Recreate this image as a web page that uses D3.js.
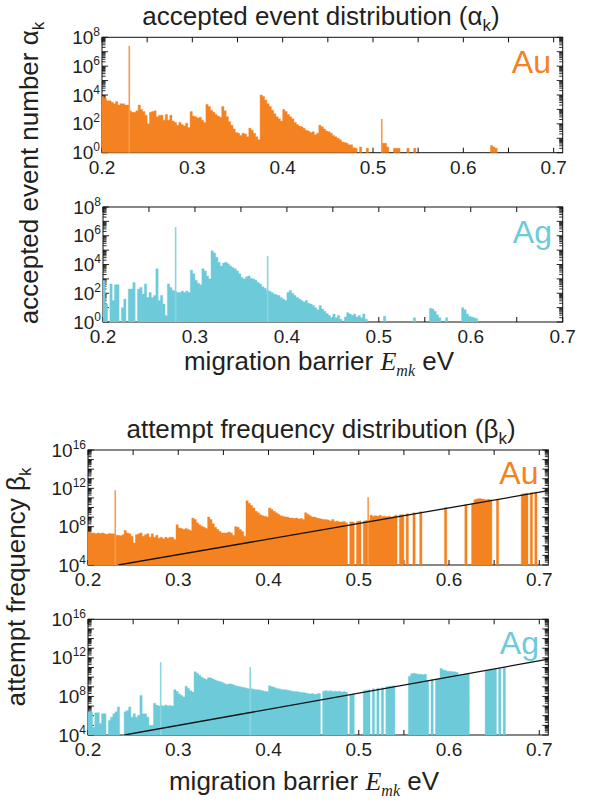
<!DOCTYPE html>
<html>
<head>
<meta charset="utf-8">
<script src="https://cdn.jsdelivr.net/npm/d3@7"></script>
<style>
  body { margin: 0; background: #fff; }
  text { font-family: "Liberation Sans", Arial, sans-serif; fill: #231f20; }
</style>
</head>
<body>
<div id="container-svg"></div>
<script>
// Histogram bins: start 0.2 eV, width 0.0025 eV. Values are log10 of the bin height (0 = empty bin)
const BIN_START = 0.2
const BIN_WIDTH = 0.0025

const auAlpha = [
  3.9, 3.75, 3.6, 3.6, 3.5, 3.4, 3.55, 3.3, 3.4, 3.4,
  3.3, 3.3, 2.9, 2.8, 2.8, 2.9, 3.3, 3.0, 2.85, 2.6,
  2.0, 2.8, 2.85, 2.9, 2.5, 2.6, 2.6, 2.25, 2.65, 2.25,
  2.6, 2.2, 2.1, 1.9, 2.1, 1.95, 1.85, 2.05, 1.75, 2.85,
  2.55, 2.5, 2.4, 2.45, 2.25, 2.1, 3.35, 3.2, 2.95, 2.8,
  2.65, 2.55, 2.45, 3.2, 2.9, 2.5, 2.15, 1.9, 1.65, 1.4,
  1.35, 1.2, 1.35, 1.3, 1.1, 1.7, 1.55, 1.35, 1.1, 0.9,
  4.0, 3.9, 3.65, 3.4, 3.2, 2.95, 2.7, 2.5, 2.35, 2.2,
  3.0, 2.85, 2.65, 2.5, 2.35, 2.1, 1.95, 1.85, 1.8, 1.7,
  1.55, 1.5, 1.4, 1.45, 1.25, 1.35, 1.9, 1.8, 1.65, 1.5,
  1.45, 1.35, 1.2, 1.1, 1.0, 0.9, 0.75, 0.7, 0.65, 0.55,
  0.55, 0.35, 0.3, 0, 0.4, 0, 0, 0.3, 0, 0,
  0, 0, 0, 0, 0.65, 0.65, 0.4, 0, 0, 0.3,
  0.3, 0.3, 0, 0, 0, 0.3, 0, 0, 0.3, 0,
  0, 0, 0, 0, 0, 0, 0, 0, 0, 0,
  0, 0, 0, 0, 0, 0, 0, 0, 0, 0,
  0, 0, 0, 0, 0, 0, 0, 0, 0, 0,
  0, 0, 0.5, 0.4, 0.3
]

const agAlpha = [
  2.9, 1.25, 0, 2.65, 1.5, 2.6, 2.6, 0, 1.0, 1.6,
  0, 2.3, 2.3, 2.75, 0, 2.3, 2.4, 1.95, 2.65, 1.7,
  2.05, 1.7, 1.85, 3.7, 1.5, 1.85, 1.25, 0.45, 2.65, 2.4,
  2.2, 2.15, 2.05, 2.05, 2.15, 2.05, 2.15, 2.05, 3.6, 3.35,
  2.9, 2.7, 2.6, 3.7, 3.55, 3.2, 3.0, 4.95, 4.8, 4.5,
  4.15, 3.9, 4.1, 4.15, 4.05, 3.9, 3.8, 3.7, 3.55, 3.35,
  3.1, 3.0, 3.15, 3.2, 3.05, 3.0, 2.9, 2.75, 2.65, 2.45,
  2.35, 2.2, 2.15, 2.05, 1.95, 1.9, 1.85, 1.7, 1.6, 1.5,
  2.05, 2.2, 2.0, 1.85, 1.7, 1.6, 1.5, 1.4, 1.5, 1.3,
  1.25, 1.15, 1.0, 0.85, 1.15, 0.9, 0.75, 0.6, 0.45, 0.3,
  0.55, 0.3, 0.45, 0.2, 0, 0.35, 0.65, 0.55, 0.45, 0.55,
  0.35, 0.45, 0.3, 0.55, 0.2, 0, 0, 0, 0, 0,
  0, 0, 0.4, 0, 0, 0, 0, 0, 0, 0,
  0, 0, 0, 0, 0, 0.3, 0, 0, 0, 0,
  0, 0, 0.95, 0.9, 0.75, 0.5, 0.3, 0, 0, 0.3,
  0, 0, 0, 0, 0, 0, 1.0, 0.85, 0.55, 0.4,
  0.35, 0.3, 0.25
]

const auBeta = [
  7.45, 7.35, 7.35, 7.25, 7.35, 7.3, 7.35, 7.25, 7.2, 7.3,
  7.25, 7.25, 7.1, 7.1, 7.05, 7.15, 7.6, 7.35, 7.25, 7.0,
  6.3, 7.15, 7.25, 7.35, 7.0, 7.15, 7.25, 6.9, 7.25, 6.9,
  7.1, 6.8, 6.9, 6.75, 6.9, 6.8, 6.9, 6.9, 6.65, 8.2,
  7.85, 7.8, 7.7, 7.8, 7.7, 7.6, 8.9, 8.75, 8.4, 8.2,
  8.05, 7.95, 7.8, 9.0, 8.75, 8.3, 7.95, 7.7, 7.5, 7.35,
  7.35, 7.35, 7.45, 7.35, 7.1, 8.0, 7.95, 7.7, 7.5, 7.0,
  10.7, 10.45, 10.2, 9.95, 9.6, 9.45, 9.25, 9.15, 9.1, 9.0,
  9.95, 9.8, 9.6, 9.45, 9.3, 9.15, 9.1, 9.0, 9.0, 8.9,
  8.9, 8.85, 8.9, 8.8, 8.85, 8.75, 9.45, 9.3, 9.15, 9.0,
  9.0, 8.9, 8.85, 8.8, 8.75, 8.75, 8.7, 8.6, 8.75, 8.55,
  8.6, 8.5, 8.5, 8.55, 8.4, 0, 8.5, 8.5, 0, 8.55,
  8.6, 0, 8.6, 8.65, 8.7, 9.2, 9.1, 9.15, 9.1, 9.2,
  9.05, 9.1, 9.05, 9.1, 9.0, 9.05, 9.2, 0, 9.25, 9.25,
  0, 9.35, 0, 0, 9.45, 0, 0, 9.55, 0, 0,
  0, 0, 0, 0, 0, 0, 0, 0, 10.0, 0,
  0, 0, 0, 0, 0, 0, 0, 10.3, 0, 0,
  10.45, 10.8, 10.9, 10.95, 10.9, 10.85, 10.8, 10.85, 10.8, 0,
  0, 10.85, 0, 0, 0, 0, 0, 0, 0, 0,
  0, 0, 11.4, 11.45, 11.5, 0, 11.55, 0, 11.6, 0
]

const agBeta = [
  6.4, 6.4, 4.8, 6.3, 6.3, 5.2, 6.2, 6.2, 0, 5.5,
  5.85, 6.2, 6.4, 6.9, 0, 0, 6.4, 6.55, 6.9, 5.85,
  6.2, 5.85, 6.05, 8.1, 6.2, 6.2, 5.85, 5.0, 5.0, 7.3,
  7.1, 7.0, 7.05, 7.0, 7.1, 7.0, 7.05, 7.0, 8.7, 8.5,
  8.25, 8.1, 7.95, 9.05, 8.85, 8.6, 8.45, 10.55, 10.4, 10.2,
  10.0, 9.85, 9.75, 9.95, 9.9, 9.8, 9.7, 9.6, 9.55, 9.45,
  9.35, 9.25, 9.3, 9.3, 9.2, 9.1, 9.05, 9.0, 8.95, 8.9,
  8.85, 8.8, 8.8, 8.75, 8.7, 8.7, 8.65, 8.6, 8.55, 8.5,
  9.1, 9.0, 8.95, 8.85, 8.8, 8.75, 8.7, 8.7, 8.65, 8.6,
  8.55, 8.5, 8.5, 8.45, 8.4, 8.4, 8.35, 8.3, 8.25, 8.3,
  8.2, 8.25, 8.3, 0, 8.55, 8.6, 8.55, 8.6, 8.5, 8.55,
  8.5, 8.55, 8.45, 8.5, 8.45, 0, 8.2, 8.25, 0, 0,
  0, 0, 8.6, 8.65, 8.7, 0, 8.8, 0, 8.85, 0,
  8.9, 0, 9.0, 9.05, 9.05, 9.1, 0, 0, 0, 0,
  0, 0, 10.1, 10.35, 10.4, 10.35, 10.3, 10.3, 10.25, 10.3,
  9.65, 0, 9.75, 0, 9.8, 9.85, 10.9, 10.75, 10.7, 10.6,
  10.6, 10.55, 10.55, 10.5, 10.2, 10.25, 10.3, 10.35, 10.35, 0,
  0, 0, 0, 0, 0, 0, 10.7, 10.75, 10.8, 10.8,
  10.85, 0, 10.9, 0, 11.0, 0
]

// Single tall events: [barrier eV, log10 value]
const auAlphaSpikes = [[0.2302, 7.4], [0.5097, 2.34]]
const agAlphaSpikes = [[0.279, 6.6], [0.3791, 4.6]]
const auBetaSpikes = [[0.2302, 11.8], [0.5104, 11.07]]
const agBetaSpikes = [[0.2805, 11.55], [0.3798, 11.05]]

// Reference lines in the attempt frequency panels: [barrier eV, log10 value]
const auBetaLine = [[0.2336, 4], [0.71, 11.75]]
const agBetaLine = [[0.2404, 4], [0.71, 11.86]]

const xTickLabels = [0.2, 0.3, 0.4, 0.5, 0.6, 0.7]
const alphaTickExps = [0, 2, 4, 6, 8]
const betaTickExps = [4, 8, 12, 16]

const ORANGE = "#f58220"
const CYAN = "#6dcbd9"

const svg = d3.select("#container-svg").append("svg")
  .attr("width", 591).attr("height", 802)
const defs = svg.append("defs")

const panels = [
  { vals: auAlpha, spikes: auAlphaSpikes, line: null, color: ORANGE, name: "Au",
    left: 102, right: 562.7, top: 37.3, bottom: 152.7, xMax: 0.71, yExp: [0, 8], ticks: alphaTickExps,
    nameX: 551, nameY: 73 },
  { vals: agAlpha, spikes: agAlphaSpikes, line: null, color: CYAN, name: "Ag",
    left: 103, right: 562.7, top: 207, bottom: 322, xMax: 0.7, yExp: [0, 8], ticks: alphaTickExps,
    nameX: 552, nameY: 242.7 },
  { vals: auBeta, spikes: auBetaSpikes, line: auBetaLine, color: ORANGE, name: "Au",
    left: 88, right: 548.3, top: 450, bottom: 565, xMax: 0.71, yExp: [4, 16], ticks: betaTickExps,
    nameX: 538.5, nameY: 483.5 },
  { vals: agBeta, spikes: agBetaSpikes, line: agBetaLine, color: CYAN, name: "Ag",
    left: 88, right: 548.3, top: 619.3, bottom: 735, xMax: 0.71, yExp: [4, 16], ticks: betaTickExps,
    nameX: 539, nameY: 653.5 }
]

panels.forEach(function(p, idx) {
  const x = d3.scaleLinear().domain([BIN_START, p.xMax]).range([p.left, p.right])
  const y = d3.scaleLog().domain([Math.pow(10, p.yExp[0]), Math.pow(10, p.yExp[1])]).range([p.bottom, p.top])
  const g = svg.append("g").attr("class", "panel")

  const clipId = "clip" + idx
  defs.append("clipPath").attr("id", clipId)
    .append("rect").attr("x", p.left).attr("y", p.top)
    .attr("width", p.right - p.left).attr("height", p.bottom - p.top)

  // frame
  g.append("rect")
    .attr("x", p.left).attr("y", p.top)
    .attr("width", p.right - p.left).attr("height", p.bottom - p.top)
    .attr("fill", "none").attr("stroke", "#111").attr("stroke-width", 1)

  // x ticks, inward on bottom and top
  const xt = d3.range(0.2, p.xMax + 1e-9, 0.05)
  g.selectAll("line.xtick-b").data(xt).join("line")
    .attr("x1", d => x(d)).attr("x2", d => x(d))
    .attr("y1", p.bottom).attr("y2", p.bottom - 5)
    .attr("stroke", "#111")
  g.selectAll("line.xtick-t").data(xt).join("line")
    .attr("x1", d => x(d)).attr("x2", d => x(d))
    .attr("y1", p.top).attr("y2", p.top + 5)
    .attr("stroke", "#111")

  // y ticks: decades and minor 2..9
  const yt = []
  for (let e = p.yExp[0]; e <= p.yExp[1]; e++) {
    yt.push({ v: Math.pow(10, e), major: true })
    if (e < p.yExp[1]) {
      for (let m = 2; m <= 9; m++) yt.push({ v: m * Math.pow(10, e), major: false })
    }
  }
  ;[[p.left, 1], [p.right, -1]].forEach(function(side) {
    g.selectAll(null).data(yt).join("line")
      .attr("x1", side[0]).attr("x2", d => side[0] + side[1] * (d.major ? 6 : 3.5))
      .attr("y1", d => y(d.v)).attr("y2", d => y(d.v))
      .attr("stroke", "#111").attr("stroke-width", 0.9)
  })

  // histogram as one step area (empty bins break it)
  const pts = []
  p.vals.forEach(function(v, i) {
    pts.push({ e: BIN_START + i * BIN_WIDTH, v: v })
    pts.push({ e: BIN_START + (i + 1) * BIN_WIDTH, v: v })
  })
  const area = d3.area()
    .defined(d => d.v > p.yExp[0])
    .x(d => x(d.e))
    .y0(p.bottom)
    .y1(d => y(Math.pow(10, d.v)))
  const barG = g.append("g").attr("clip-path", "url(#" + clipId + ")")
  barG.append("path")
    .attr("d", area(pts))
    .attr("fill", p.color)
    .attr("stroke", p.color).attr("stroke-width", 0.4)

  barG.selectAll("rect.spike").data(p.spikes).join("rect")
    .attr("class", "spike")
    .attr("x", d => x(d[0]) - 0.8)
    .attr("width", 1.6)
    .attr("y", d => y(Math.pow(10, d[1])))
    .attr("height", d => p.bottom - y(Math.pow(10, d[1])))
    .attr("fill", d3.interpolateRgb(p.color, "#ffffff")(0.2))

  if (p.line) {
    barG.append("path")
      .attr("d", d3.line().x(d => x(d[0])).y(d => y(Math.pow(10, d[1])))(p.line))
      .attr("fill", "none").attr("stroke", "#111").attr("stroke-width", 1.3)
  }

  // x tick labels
  g.selectAll("text.xlab").data(xTickLabels).join("text")
    .attr("x", d => x(d)).attr("y", p.bottom + 21)
    .attr("text-anchor", "middle").attr("font-size", 19)
    .text(d => d.toFixed(1))

  // y tick labels 10^n
  const yl = g.selectAll("text.ylab").data(p.ticks).join("text")
    .attr("x", p.left - 2).attr("y", d => y(Math.pow(10, d)) + 6.5)
    .attr("text-anchor", "end").attr("font-size", 19)
  yl.append("tspan").text("10")
  yl.append("tspan").attr("dy", -8).attr("font-size", 12).text(d => d)

  // element label
  g.append("text")
    .attr("x", p.nameX).attr("y", p.nameY)
    .attr("text-anchor", "end").attr("font-size", 32)
    .style("fill", p.color)
    .text(p.name)
})

// text with a subscript part
function subText(sel, main, sub, after, subSize) {
  sel.append("tspan").text(main)
  sel.append("tspan").attr("dy", 6).attr("font-size", subSize).text(sub)
  if (after) sel.append("tspan").attr("dy", -6).text(after)
}

subText(svg.append("text").attr("x", 321).attr("y", 25).attr("text-anchor", "middle").attr("font-size", 26),
  "accepted event distribution (\u03b1", "k", ")", 17)
subText(svg.append("text").attr("x", 321).attr("y", 438).attr("text-anchor", "middle").attr("font-size", 26),
  "attempt frequency distribution (\u03b2", "k", ")", 17)

// y axis labels
subText(svg.append("text").attr("transform", "translate(38,173) rotate(-90)")
  .attr("text-anchor", "middle").attr("font-size", 26),
  "accepted event number \u03b1", "k", null, 17)
subText(svg.append("text").attr("transform", "translate(25,587) rotate(-90)")
  .attr("text-anchor", "middle").attr("font-size", 26),
  "attempt frequency \u03b2", "k", null, 17)

// x axis labels
function xLabel(cx, cy) {
  const t = svg.append("text").attr("x", cx).attr("y", cy)
    .attr("text-anchor", "middle").attr("font-size", 26)
  t.append("tspan").text("migration barrier ")
  t.append("tspan").style("font-family", "'Liberation Serif', 'Times New Roman', serif")
    .style("font-style", "italic").text("E")
  t.append("tspan").attr("dy", 6).attr("font-size", 16)
    .style("font-family", "'Liberation Serif', 'Times New Roman', serif")
    .style("font-style", "italic").text("mk")
  t.append("tspan").attr("dy", -6).text(" eV")
}
xLabel(319, 370)
xLabel(304, 790)
</script>
</body>
</html>
